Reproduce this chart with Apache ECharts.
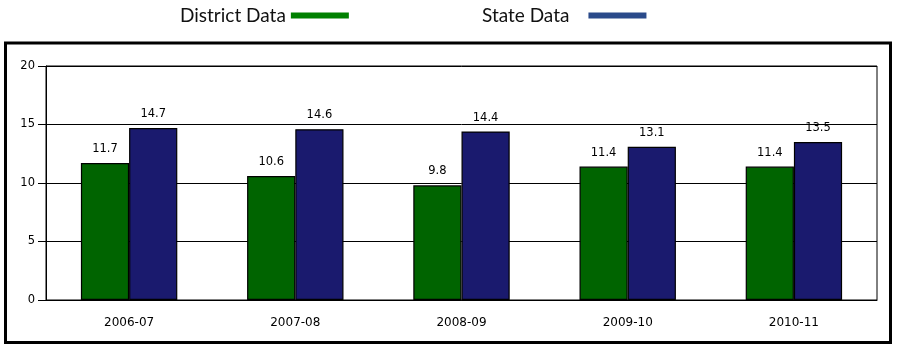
<!DOCTYPE html>
<html><head><meta charset="utf-8">
<script src="https://cdn.jsdelivr.net/npm/echarts@6/dist/echarts.min.js"></script>
<style>html,body{margin:0;padding:0;background:#fff}#c{width:900px;height:359px}</style>
</head><body><div id="c"></div>
<script>
const categories = ['2006-07', '2007-08', '2008-09', '2009-10', '2010-11'];
const districtData = [11.7, 10.6, 9.8, 11.4, 11.4];
const stateData = [14.7, 14.6, 14.4, 13.1, 13.5];
const yTicks = [0, 5, 10, 15, 20];

const chart = echarts.init(document.getElementById('c'), null, {renderer: 'canvas'});
const labelStyle = {show: true, position: 'top', distance: 8, color: '#000', fontFamily: 'DejaVu Sans', fontSize: 11.5,
  formatter: p => p.value.toFixed(1)};
chart.setOption({
  animation: false,
  backgroundColor: '#fff',
  legend: [
    {data: [{name: 'District Data', itemStyle: {color: '#008000', borderWidth: 0}}],
     left: 175, top: 1, align: 'right', icon: 'rect', itemWidth: 58, itemHeight: 6,
     textStyle: {fontFamily: 'Lato', fontSize: 19, color: '#111', padding: [0, 0, 0, 0]}},
    {data: [{name: 'State Data', itemStyle: {color: '#2a4a8a', borderWidth: 0}}],
     left: 477, top: 1, align: 'right', icon: 'rect', itemWidth: 58, itemHeight: 6,
     textStyle: {fontFamily: 'Lato', fontSize: 19, color: '#111', padding: [0, 14, 0, 0]}}
  ],
  graphic: [{type: 'rect', shape: {x: 5.5, y: 43, width: 885, height: 299.5},
    style: {fill: 'none', stroke: '#000', lineWidth: 3}, silent: true}],
  grid: {left: 46, right: 23, top: 66, bottom: 59, show: true, borderColor: '#000', borderWidth: 1, backgroundColor: 'transparent'},
  xAxis: {type: 'category', data: categories,
    axisLine: {lineStyle: {color: '#000', width: 1}}, axisTick: {show: false},
    axisLabel: {color: '#000', fontFamily: 'DejaVu Sans', fontSize: 12, margin: 17}},
  yAxis: {type: 'value', min: yTicks[0], max: yTicks[yTicks.length - 1], interval: 5,
    axisLine: {show: true, lineStyle: {color: '#000'}},
    axisTick: {show: true, length: 8, lineStyle: {color: '#000'}},
    axisLabel: {color: '#000', fontFamily: 'DejaVu Sans', fontSize: 11.5, margin: 11},
    splitLine: {lineStyle: {color: '#000', width: 1}}},
  series: [
    {name: 'District Data', type: 'bar', data: districtData, barGap: 0, barCategoryGap: '42%',
     itemStyle: {color: '#006400', borderColor: '#000', borderWidth: 1.2}, label: labelStyle},
    {name: 'State Data', type: 'bar', data: stateData, barGap: 0, barCategoryGap: '42%',
     itemStyle: {color: '#1a1a6e', borderColor: '#000', borderWidth: 1.2}, label: labelStyle}
  ]
});
</script></body></html>
